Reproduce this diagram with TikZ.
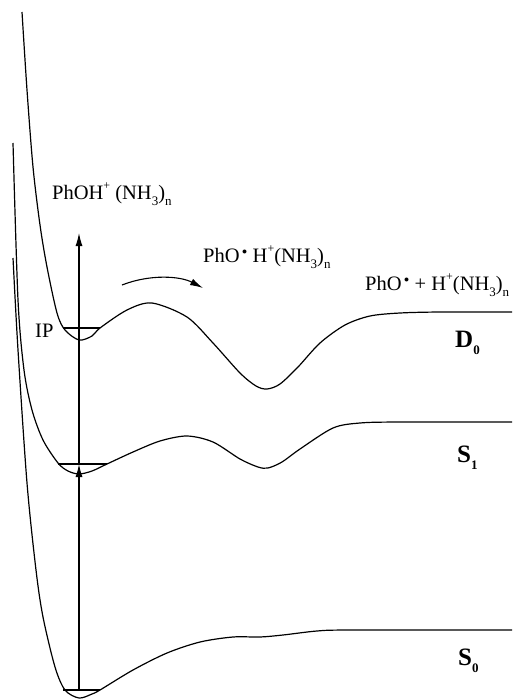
\documentclass[tikz,border=0pt]{standalone}
\usepackage{fontspec}
\setmainfont{Liberation Serif}
\usetikzlibrary{arrows.meta}
\newcommand{\rad}{\textsuperscript{\,\scalebox{0.7}{$\bullet$}}}
\newcommand{\lsub}[1]{\raisebox{-0.3em}{\fontsize{13}{13}\selectfont #1}}
\newcommand{\lsup}[1]{\raisebox{0.45em}{\fontsize{12}{12}\selectfont #1}}
\begin{document}
\begin{tikzpicture}[x=1pt,y=-1pt,
  curve/.style={line width=1.2pt, line join=round},
  lvl/.style={line width=1.1pt},
  tip/.style={-{Latex[length=13pt,width=7pt]}, line width=1.1pt},
  lab/.style={anchor=base west, inner sep=0pt, font=\fontsize{20.5}{24}\selectfont},
  st/.style={anchor=base west, inner sep=0pt, font=\fontsize{25}{30}\selectfont\bfseries}]
\useasboundingbox (0,0) rectangle (512,699);
% D0
\draw[curve] plot[smooth, tension=0.5] coordinates {(22,12) (27,90) (33,167) (40,225) (47,267) (57,313) (65,330) (79,340) (92,336) (100,328) (127,310) (152,303) (187,317) (213,343) (240,373) (256,386) (267,389) (280,384) (298,367) (320,343) (345,325) (370,316) (400,313) (440,312) (512,312)};
% S1
\draw[curve] plot[smooth, tension=0.5] coordinates {(13,143) (18,300) (24,370) (32,410) (43,440) (58,463) (68,471) (79,474) (92,471) (107,464) (133,452) (160,441) (187,436) (213,442) (240,459) (258,467) (268,468) (282,462) (300,449) (333,428) (360,423) (400,422) (512,422)};
% S0
\draw[curve] plot[smooth, tension=0.5] coordinates {(13,258) (18,350) (27,483) (36,570) (43,617) (55,667) (65,690) (79,698) (92,694) (100,690) (133,670) (167,653) (200,642) (233,637) (260,637) (283,635) (317,631) (350,630) (512,630)};
% levels
\draw[lvl] (63,328) -- (100,328);
\draw[lvl] (58,464) -- (107,464);
\draw[lvl] (63,690) -- (100,690);
% vertical arrows
\coordinate (g) at (79,690);
\coordinate (m) at (79,464);
\coordinate (t) at (79,233);
\draw[tip] (g) -- (m);
\draw[tip] (m) -- (t);
% curved arrow
\coordinate (ca) at (122,285);
\coordinate (cb) at (203,288);
\draw[tip] (ca) .. controls (150,274) and (180,276) .. (cb);
% labels
\node[lab] (l1) at (52,199) {PhOH\lsup{+} (NH\lsub{3})\lsub{n}};
\node[lab] (l2) at (203,262) {PhO\rad{} H\lsup{+}(NH\lsub{3})\lsub{n}};
\node[lab] (l3) at (365,290) {PhO\rad{} + H\lsup{+}(NH\lsub{3})\lsub{n}};
\node[lab] (ip) at (35,337) {IP};
\node[st] (d0) at (455,347) {D\lsub{\bfseries 0}};
\node[st] (s1) at (457,462) {S\lsub{\bfseries 1}};
\node[st] (s0) at (458,665) {S\lsub{\bfseries 0}};
\end{tikzpicture}
\end{document}
